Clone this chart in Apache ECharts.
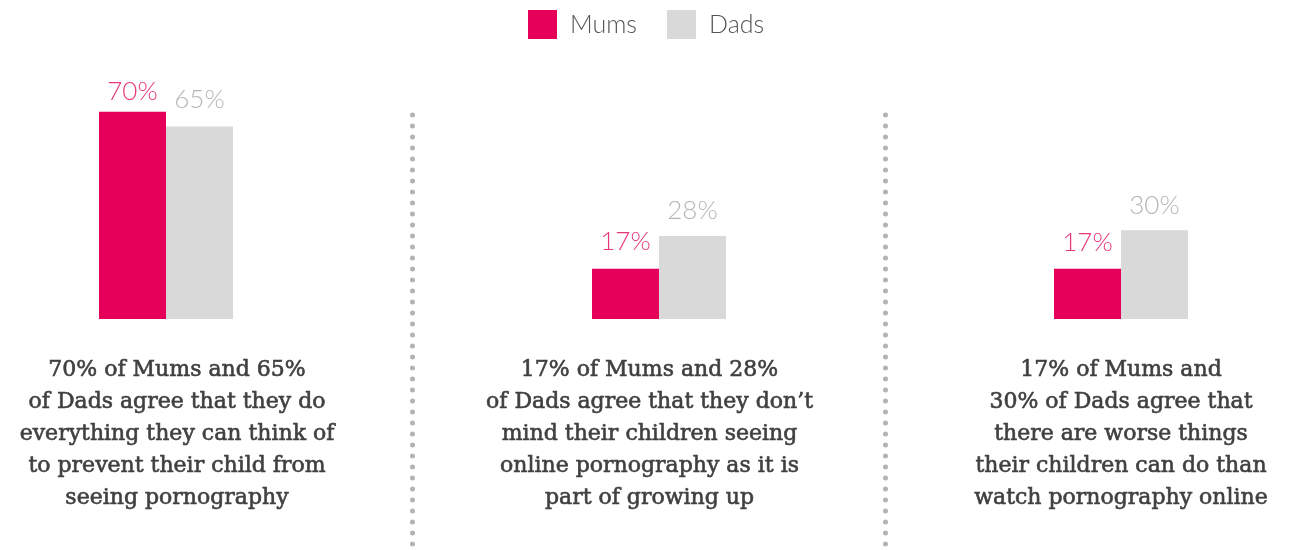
<!DOCTYPE html>
<html>
<head>
<meta charset="utf-8">
<script src="https://cdn.jsdelivr.net/npm/echarts@6/dist/echarts.min.js"></script>
<style>
  html, body { margin: 0; padding: 0; background: #fff; }
  #chart { width: 1292px; height: 551px; }
</style>
</head>
<body>
<div id="chart"></div>
<script>
// Survey statements (one per panel), shown as captions under each pair of bars
const statements = [
  '70% of Mums and 65%\nof Dads agree that they do\neverything they can think of\nto prevent their child from\nseeing pornography',
  '17% of Mums and 28%\nof Dads agree that they don\u2019t\nmind their children seeing\nonline pornography as it is\npart of growing up',
  '17% of Mums and\n30% of Dads agree that\nthere are worse things\ntheir children can do than\nwatch pornography online'
];
const seriesNames = ['Mums', 'Dads'];
const mumsValues = [70, 17, 17];
const dadsValues = [65, 28, 30];

const MUM_COLOR = '#E6005A';
const DAD_COLOR = '#D9D9D9';
const SANS = 'Lato, "Open Sans", sans-serif';
const SERIF = '"DejaVu Serif", serif';

// Layout: panel centres, caption offsets and value-label gaps (px)
const panelCenters = [166, 659, 1121];
const captionShift = [11, -9.5, 0];
const labelGap = [[7, 14.5, 13.4], [13.5, 12.7, 11.7]];
const PANEL_W = 200;

const grids = [], xAxes = [], yAxes = [], series = [];
panelCenters.forEach((c, i) => {
  const s = captionShift[i];
  grids.push({
    left: c - PANEL_W / 2, width: PANEL_W, top: 23, height: 296,
    containLabel: false, outerBoundsMode: 'none'
  });
  xAxes.push({
    type: 'category', gridIndex: i, data: [statements[i]],
    axisLine: { show: false }, axisTick: { show: false },
    axisLabel: {
      interval: 0, margin: 35, color: '#404040',
      fontFamily: SERIF, fontSize: 22, lineHeight: 32, align: 'center',
      textBorderColor: '#404040', textBorderWidth: 0.6,
      padding: s >= 0 ? [0, 0, 0, s * 2] : [0, -s * 2, 0, 0]
    }
  });
  yAxes.push({ type: 'value', gridIndex: i, min: 0, max: 100, show: false });
  [mumsValues, dadsValues].forEach((vals, k) => {
    series.push({
      name: seriesNames[k], type: 'bar', xAxisIndex: i, yAxisIndex: i,
      data: [{ value: vals[i], label: { distance: labelGap[k][i] } }],
      barWidth: 67, barGap: '0%',
      itemStyle: { color: k === 0 ? MUM_COLOR : DAD_COLOR },
      label: {
        show: true, position: 'top',
        formatter: '{c}%', fontFamily: SANS, fontWeight: 300, fontSize: 26,
        color: k === 0 ? '#E8377A' : '#B5B5B5'
      },
      silent: true, animation: false
    });
  });
});

// Dotted separators between panels
const dividers = [412.5, 885.5].map(x => ({
  type: 'line', silent: true,
  shape: { x1: x, y1: 115, x2: x, y2: 560 },
  style: { stroke: '#B3B3B3', lineWidth: 5, lineCap: 'round', lineDash: [0, 11] }
}));

const chart = echarts.init(document.getElementById('chart'));
chart.setOption({
  animation: false,
  legend: {
    data: seriesNames, top: 5, left: 523,
    itemWidth: 29, itemHeight: 29, itemGap: 30, icon: 'rect',
    textStyle: {
      fontFamily: SANS, fontWeight: 300, fontSize: 25, color: '#555',
      padding: [0, 0, 0, 8]
    }
  },
  grid: grids, xAxis: xAxes, yAxis: yAxes, series: series,
  graphic: dividers
});
</script>
</body>
</html>
